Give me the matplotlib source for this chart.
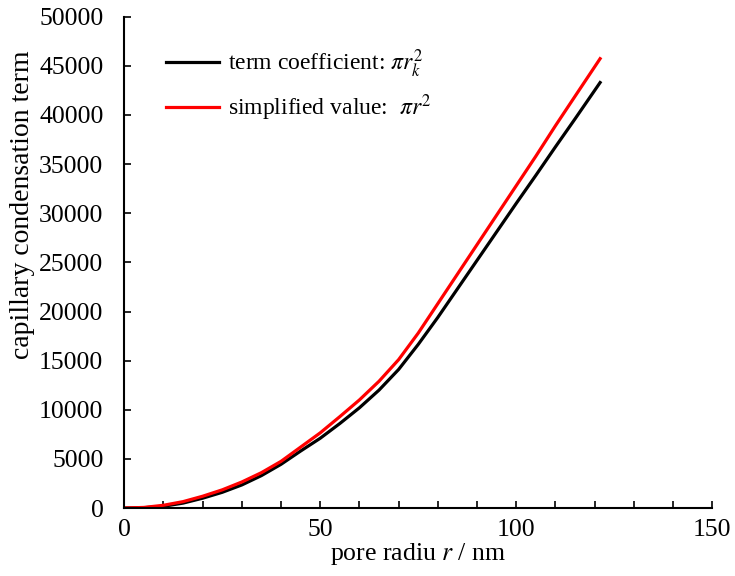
import numpy as np
import matplotlib.pyplot as plt
from matplotlib.ticker import MultipleLocator

plt.rcParams['font.family'] = ['Liberation Serif', 'Noto Sans CJK SC']
plt.rcParams['mathtext.fontset'] = 'stix'

# values
r_red = [0, 5, 10, 15, 20, 25, 30, 35, 40, 45, 50, 55, 60, 65, 70, 75, 80, 85, 90, 95, 100, 105, 110, 115, 121.4]
y_red = [0, 60, 280, 650, 1200, 1850, 2650, 3600, 4750, 6200, 7650, 9300, 11000, 12900, 15100, 17800, 20800, 23800, 26800, 29800, 32800, 35800, 38900, 41900, 45730]

r_black = [0, 5, 10, 15, 20, 25, 30, 35, 40, 45, 50, 55, 60, 65, 70, 75, 80, 85, 90, 95, 100, 105, 110, 115, 121.4]
y_black = [0, 30, 180, 500, 1000, 1600, 2350, 3300, 4450, 5800, 7100, 8600, 10200, 12000, 14100, 16650, 19400, 22300, 25200, 28100, 31000, 33850, 36750, 39600, 43300]

fig = plt.figure(figsize=(7.35, 5.76), dpi=100)
ax = fig.add_axes([0.169, 0.118, 0.800, 0.853])

ax.plot(r_black, y_black, color='black', lw=2.3, label=r'term coefficient: $\pi r_k^2$')
ax.plot(r_red, y_red, color='#ff0000', lw=2.3, label=r'simplified value:  $\pi r^2$')

ax.set_xlim(0, 150)
ax.set_ylim(0, 50000)
ax.xaxis.set_major_locator(MultipleLocator(50))
ax.xaxis.set_minor_locator(MultipleLocator(10))
ax.yaxis.set_major_locator(MultipleLocator(5000))
ax.tick_params(which='both', direction='in', length=5, width=1.2, labelsize=18.5)
ax.tick_params(axis='x', pad=8)
ax.tick_params(axis='y', pad=15)
ax.spines['top'].set_visible(False)
ax.spines['right'].set_visible(False)
ax.spines['left'].set_linewidth(1.5)
ax.spines['bottom'].set_linewidth(1.5)

ax.set_xlabel(r'pore radiu $r$ / nm', fontsize=18.5, labelpad=0)
ax.set_ylabel('capillary condensation term', fontsize=20)
ax.yaxis.set_label_coords(-0.152, 0.617)

ax.legend(loc='upper left', bbox_to_anchor=(0.055, 0.957), frameon=False,
          fontsize=17, handlelength=2.25, handletextpad=0.38, labelspacing=0.55,
          borderaxespad=0)

fig.savefig('out.png', dpi=100)
